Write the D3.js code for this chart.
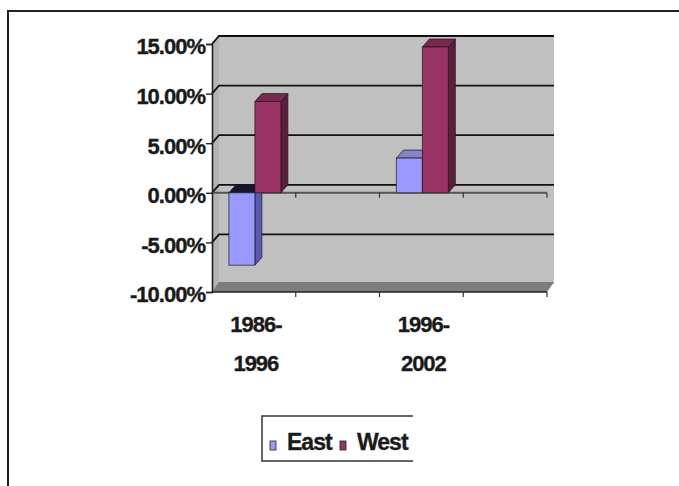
<!DOCTYPE html>
<html>
<head>
<meta charset="utf-8">
<script src="https://cdn.jsdelivr.net/npm/d3@7"></script>
<style>
  body { margin: 0; background: #fff; }
  svg { display: block; }
  text { font-family: "Liberation Sans", Arial, sans-serif; font-weight: bold; fill: #1a1a1a; stroke: #1a1a1a; stroke-width: 0.35px; }
</style>
</head>
<body>
<svg width="679" height="486"></svg>
<script>
const categories = ["1986-1996", "", "1996-2002", ""];
const series = ["East", "West"];
const east = [-7.3, null, 3.5, null];
const west = [9.2, null, 14.7, null];
const yTicks = [-10, -5, 0, 5, 10, 15];

const svg = d3.select("svg");

// depth offset of the 3d box
const dx = 7, dy = -8;

const x = d3.scaleBand()
    .domain(categories.map((c, i) => i))
    .range([212, 547]);

const y = d3.scaleLinear()
    .domain([-10, 15])
    .range([292, 44]);

const left = x.range()[0], right = x.range()[1];

// outer frame (top + left only)
svg.append("path")
    .attr("d", `M8,486 V11 H679`)
    .attr("fill", "none")
    .attr("stroke", "#222")
    .attr("stroke-width", 2);

// back wall
svg.append("rect")
    .attr("x", left + dx)
    .attr("y", y(15) + dy)
    .attr("width", right - left)
    .attr("height", y(-10) - y(15))
    .attr("fill", "#c0c0c0");

// side wall
svg.append("path")
    .attr("d", `M${left},${y(15)} L${left + dx},${y(15) + dy} L${left + dx},${y(-10) + dy} L${left},${y(-10)} Z`)
    .attr("fill", "#b4b4b4");

// gridlines
svg.selectAll(".grid")
    .data(yTicks.filter(t => t > -10))
    .enter().append("path")
    .attr("class", "grid")
    .attr("d", t => `M${left},${y(t)} L${left + dx},${y(t) + dy} H${right + dx}`)
    .attr("fill", "none")
    .attr("stroke", "#111")
    .attr("stroke-width", 1.8);

// floor slab
svg.append("path")
    .attr("d", `M${left},${y(-10)} L${left + dx},${y(-10) + dy - 2} H${right + dx} L${right},${y(-10)} Z`)
    .attr("fill", "#7d7d7d");

// category axis at zero
svg.append("line")
    .attr("x1", left).attr("x2", right)
    .attr("y1", y(0)).attr("y2", y(0))
    .attr("stroke", "#555").attr("stroke-width", 2);

// bottom edge
svg.append("line")
    .attr("x1", left).attr("x2", right)
    .attr("y1", y(-10)).attr("y2", y(-10))
    .attr("stroke", "#222").attr("stroke-width", 1.6);

const bounds = categories.map((c, i) => x(i) + x.bandwidth());
[y(0), y(-10)].forEach(yy => {
    svg.selectAll(null)
        .data(bounds)
        .enter().append("line")
        .attr("x1", d => d).attr("x2", d => d)
        .attr("y1", yy).attr("y2", yy + 5)
        .attr("stroke", "#333").attr("stroke-width", 1.2);
});

// bars
const barW = 26;
const colors = {
    East: { front: "#9999ff", side: "#5a5ab4", top: "#8484c8", under: "#15152e" },
    West: { front: "#993366", side: "#5c1e3e", top: "#7a2850", under: "#3a1020" }
};

const bars = [];
categories.forEach((c, i) => {
    const start = x(i) + (x.bandwidth() - barW * 2) / 2 + 1;
    [east[i], west[i]].forEach((v, j) => {
        if (v == null) return;
        bars.push({ s: series[j], v: v, x0: start + j * barW, x1: start + (j + 1) * barW });
    });
});

const bar = svg.selectAll(".bar")
    .data(bars)
    .enter().append("g")
    .attr("class", "bar")
    .attr("stroke", "#1a1a1a")
    .attr("stroke-width", 0.7)
    .attr("stroke-linejoin", "round");

bar.append("path")
    .attr("d", d => {
        const t = y(Math.max(d.v, 0)), b = y(Math.min(d.v, 0));
        return `M${d.x1},${t} L${d.x1 + dx},${t + dy} L${d.x1 + dx},${b + dy} L${d.x1},${b} Z`;
    })
    .attr("fill", d => colors[d.s].side);

bar.append("path")
    .attr("d", d => {
        const t = y(Math.max(d.v, 0));
        return `M${d.x0},${t} L${d.x0 + dx},${t + dy} L${d.x1 + dx},${t + dy} L${d.x1},${t} Z`;
    })
    .attr("fill", d => d.v < 0 ? colors[d.s].under : colors[d.s].top);

bar.append("rect")
    .attr("x", d => d.x0)
    .attr("y", d => y(Math.max(d.v, 0)))
    .attr("width", d => d.x1 - d.x0)
    .attr("height", d => Math.abs(y(d.v) - y(0)))
    .attr("fill", d => colors[d.s].front);

// value axis
const yAxis = svg.append("g")
    .attr("transform", `translate(${left},0)`)
    .call(d3.axisLeft(y).tickValues(yTicks).tickSize(6).tickPadding(1)
        .tickFormat(d => d.toFixed(2) + "%"));
yAxis.select(".domain").attr("stroke", "#222").attr("stroke-width", 1.6);
yAxis.selectAll(".tick line").attr("stroke", "#222").attr("stroke-width", 1.4);
yAxis.selectAll(".tick text")
    .attr("dy", "0.45em")
    .style("font-size", "22px")
    .style("letter-spacing", "-1px")
    .style("fill", "#1a1a1a");

// category labels, broken after the hyphen
svg.selectAll(".cat")
    .data(categories.map((c, i) => ({ c, i })).filter(d => d.c))
    .enter().append("text")
    .attr("class", "cat")
    .attr("text-anchor", "middle")
    .style("font-size", "22px")
    .style("letter-spacing", "-1px")
    .each(function(d) {
        const parts = d.c.split(/(?<=-)/);
        d3.select(this).selectAll("tspan")
            .data(parts)
            .enter().append("tspan")
            .attr("x", x(d.i) + x.bandwidth() / 2 + 2)
            .attr("y", (p, k) => 332 + k * 39)
            .text(p => p);
    });

// legend
const legend = svg.append("g");
legend.append("path")
    .attr("d", "M413,416 H262 V461 H413")
    .attr("fill", "none")
    .attr("stroke", "#333")
    .attr("stroke-width", 1.5);

const legX = [270, 340];
const item = legend.selectAll(".leg")
    .data(series)
    .enter().append("g")
    .attr("class", "leg")
    .attr("transform", (d, i) => `translate(${legX[i]},0)`);

item.append("rect")
    .attr("x", 0).attr("y", 441)
    .attr("width", 6).attr("height", 9)
    .attr("fill", d => colors[d].front)
    .attr("stroke", "#222").attr("stroke-width", 0.8);

item.append("text")
    .attr("x", 17).attr("y", 450)
    .style("font-size", "23px")
    .style("letter-spacing", "-1px")
    .text(d => d);
</script>
</body>
</html>
